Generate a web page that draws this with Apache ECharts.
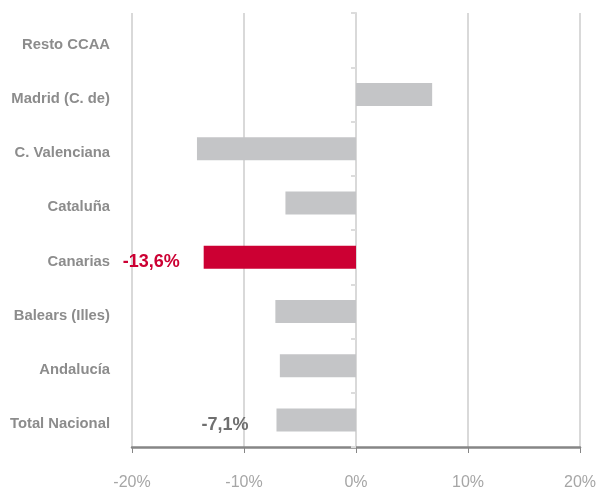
<!DOCTYPE html>
<html>
<head>
<meta charset="utf-8">
<script src="https://cdn.jsdelivr.net/npm/echarts@6/dist/echarts.min.js"></script>
<style>
  html, body { margin: 0; padding: 0; background: #fff; }
  #chart { width: 597px; height: 489px; }
</style>
</head>
<body>
<div id="chart"></div>
<script>
// Regions, listed bottom to top as they appear on the category axis
const regions = ['Total Nacional', 'Andalucía', 'Balears (Illes)', 'Canarias', 'Cataluña', 'C. Valenciana', 'Madrid (C. de)', 'Resto CCAA'];
// Year-on-year change, %
const changes = [-7.1, -6.8, -7.2, -13.6, -6.3, -14.2, 6.8, 0];
// Regions whose value is printed next to the bar
const labelledRegions = ['Total Nacional', 'Canarias'];
const highlight = 'Canarias';
// Value axis ticks
const xTicks = [-20, -10, 0, 10, 20];

const FONT = '"Liberation Sans", Arial, sans-serif';

// Look of the printed values
const valueLabelStyle = {
  'Total Nacional': { color: '#6f6f6f', distance: 28, offset: [0, 5] },
  'Canarias': { color: '#cc0033', distance: 24, offset: [0, 5] }
};

const GRID = { left: 132, right: 17, top: 13, bottom: 42 };
const plotWidth = 597 - GRID.left - GRID.right;
// distance from the grid's left edge to the zero line
const zeroOffset = plotWidth * (0 - xTicks[0]) / (xTicks[xTicks.length - 1] - xTicks[0]);

const barData = regions.map((r, i) => {
  const item = {
    value: changes[i],
    itemStyle: { color: r === highlight ? '#cc0033' : '#c4c5c7' }
  };
  if (labelledRegions.includes(r)) {
    const s = valueLabelStyle[r];
    item.label = {
      show: true,
      position: 'left',
      distance: s.distance,
      offset: s.offset,
      color: s.color,
      fontFamily: FONT,
      fontWeight: 'bold',
      fontSize: 18,
      formatter: p => p.value.toFixed(1).replace('.', ',') + '%'
    };
  }
  return item;
});

const chart = echarts.init(document.getElementById('chart'), null, { renderer: 'canvas' });
chart.setOption({
  animation: false,
  grid: Object.assign({ containLabel: false, outerBoundsMode: 'none' }, GRID),
  xAxis: {
    type: 'value',
    min: xTicks[0],
    max: xTicks[xTicks.length - 1],
    interval: 10,
    axisLine: { show: true, onZero: false, lineStyle: { color: '#868686', width: 2.5 } },
    axisTick: { show: true, length: 6, lineStyle: { color: '#868686', width: 1 } },
    splitLine: { show: true, lineStyle: { color: '#d9d9d9', width: 2 } },
    axisLabel: {
      color: '#a6a6a6',
      fontFamily: FONT,
      fontSize: 16,
      margin: 28,
      formatter: v => v + '%'
    }
  },
  yAxis: [
    {
      type: 'category',
      data: regions,
      axisLine: { show: false },
      axisTick: { show: false },
      axisLabel: {
        color: '#8c8c8c',
        fontFamily: FONT,
        fontWeight: 'bold',
        fontSize: 14.8,
        margin: 22,
        verticalAlign: 'top',
        lineHeight: 9
      }
    },
    {
      // category boundary ticks drawn along the zero line
      type: 'category',
      data: regions,
      position: 'left',
      offset: -zeroOffset,
      axisLine: { show: true, onZero: false, lineStyle: { color: '#d9d9d9', width: 2 } },
      axisTick: { show: true, length: 5, lineStyle: { color: '#dcdcdc', width: 2 } },
      axisLabel: { show: false }
    }
  ],
  series: [{
    type: 'bar',
    yAxisIndex: 0,
    data: barData,
    barWidth: 23,
    label: { show: false }
  }]
});
</script>
</body>
</html>
